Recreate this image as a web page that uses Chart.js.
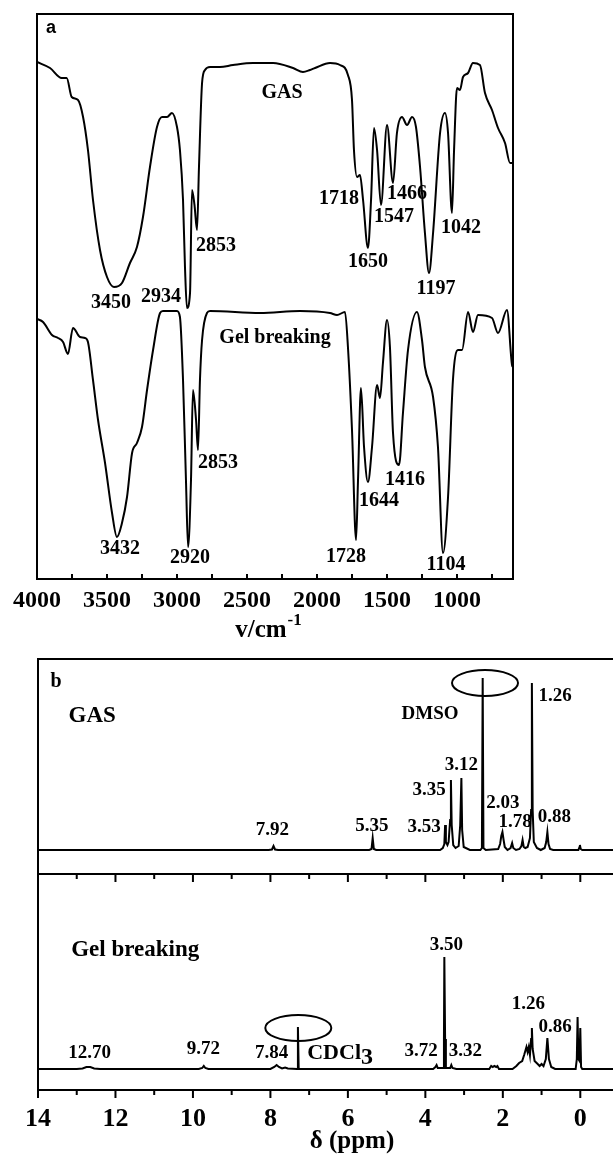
<!DOCTYPE html>
<html>
<head>
<meta charset="utf-8">
<script src="https://cdn.jsdelivr.net/npm/chart.js@4.4.1/dist/chart.umd.min.js"></script>
<style>
    body { margin: 0; background: #fff; width: 613px; height: 1157px; overflow: hidden; position: relative; }
    #wrapA { position: absolute; left: 0; top: 0; width: 613px; height: 645px; }
    #wrapB { position: absolute; left: 0; top: 645px; width: 613px; height: 512px; overflow: hidden; }
</style>
</head>
<body>
<div id="wrapA"><canvas id="irChart" width="613" height="645"></canvas></div>
<div id="wrapB"><canvas id="nmrChart" width="620" height="512"></canvas></div>
<script>
const FONT = "'Liberation Serif', 'Times New Roman', serif";

// (a) FT-IR, wavenumber in cm-1, transmittance in a.u. (curves stacked)
const irGasWn = [4000, 3907, 3824, 3788, 3752, 3707, 3671, 3636, 3600, 3550, 3500, 3450, 3393, 3336, 3286, 3243, 3193, 3143, 3107, 3071, 3036, 3000, 2979, 2957, 2943, 2929, 2907, 2893, 2875, 2857, 2843, 2821, 2800, 2764, 2693, 2600, 2457, 2314, 2171, 2100, 2050, 2014, 1907, 1836, 1779, 1750, 1736, 1714, 1693, 1671, 1636, 1614, 1593, 1571, 1543, 1500, 1457, 1429, 1393, 1357, 1321, 1293, 1264, 1229, 1200, 1171, 1121, 1086, 1064, 1036, 1021, 1000, 979, 957, 921, 886, 836, 800, 750, 707, 657, 621, 600];
const irGasT = [517, 511, 501, 501, 482, 479, 462, 429, 379, 329, 302, 292, 296, 316, 332, 362, 412, 452, 462, 462, 466, 452, 429, 379, 312, 271, 286, 389, 374, 349, 412, 496, 509, 512, 512, 514, 516, 516, 511, 507, 509, 511, 516, 514, 504, 479, 429, 402, 404, 379, 331, 379, 451, 429, 374, 454, 396, 446, 462, 454, 462, 452, 412, 346, 306, 346, 446, 466, 446, 366, 429, 491, 489, 502, 506, 516, 514, 486, 469, 451, 436, 416, 416];
const irGelWn = [4000, 3957, 3893, 3850, 3814, 3779, 3743, 3693, 3657, 3636, 3600, 3564, 3514, 3464, 3429, 3393, 3357, 3321, 3286, 3250, 3214, 3171, 3121, 3100, 3000, 2979, 2957, 2936, 2921, 2900, 2886, 2864, 2850, 2836, 2821, 2786, 2764, 2407, 2121, 1907, 1857, 1800, 1779, 1750, 1721, 1707, 1686, 1664, 1636, 1607, 1571, 1550, 1529, 1500, 1479, 1457, 1414, 1386, 1350, 1286, 1250, 1229, 1171, 1136, 1100, 1064, 1029, 993, 964, 921, 886, 850, 750, 707, 643, 607, 600];
const irGelT = [260, 257, 244, 241, 237, 225, 251, 242, 241, 237, 199, 159, 116, 66, 42, 56, 82, 126, 136, 152, 189, 229, 266, 268, 268, 262, 199, 99, 32, 99, 189, 159, 129, 199, 239, 266, 268, 266, 268, 266, 264, 267, 232, 149, 39, 99, 191, 132, 97, 132, 194, 181, 216, 259, 232, 146, 114, 166, 229, 267, 239, 212, 182, 132, 26, 82, 199, 229, 229, 267, 247, 264, 261, 246, 269, 214, 212];
const irTicks = [4000, 3750, 3500, 3250, 3000, 2750, 2500, 2250, 2000, 1750, 1500, 1250, 1000, 750];
const irLabels = [
    ['GAS', 2250, 486], ['2853', 2721, 333], ['3450', 3471, 276], ['2934', 3114, 282],
    ['1718', 1843, 380], ['1650', 1636, 317], ['1547', 1450, 362], ['1466', 1357, 385],
    ['1042', 971, 351], ['1197', 1150, 290],
    ['Gel breaking', 2300, 241], ['2853', 2707, 116], ['3432', 3407, 30], ['2920', 2907, 21],
    ['1728', 1793, 22], ['1644', 1557, 78], ['1416', 1371, 99], ['1104', 1079, 14]
];

// (b) 1H NMR, chemical shift in ppm, intensity in a.u. above each baseline
const nmrGasPpm = [14, 8.05, 7.96, 7.92, 7.88, 7.8, 5.45, 5.39, 5.36, 5.33, 5.27, 3.62, 3.55, 3.51, 3.49, 3.47, 3.43, 3.4, 3.36, 3.34, 3.32, 3.28, 3.22, 3.14, 3.1, 3.07, 3.05, 3.01, 2.85, 2.58, 2.54, 2.52, 2.5, 2.44, 2.12, 2.07, 2.04, 2.01, 1.98, 1.95, 1.88, 1.8, 1.76, 1.73, 1.66, 1.57, 1.52, 1.49, 1.46, 1.42, 1.36, 1.3, 1.27, 1.25, 1.23, 1.2, 1.12, 1.02, 0.92, 0.88, 0.85, 0.82, 0.78, 0.7, 0.05, 0.02, 0.01, -0.01, -0.05, -0.87];
const nmrGasInt = [0, 0, 0.5, 4, 0.5, 0, 0, 1, 12, 1, 0, 0, 2, 6, 25, 8, 5, 8, 30, 70, 25, 5, 2, 4, 25, 72, 20, 3, 0, 0, 2, 172, 2, 0, 1, 6, 14, 18, 10, 3, 0, 2, 7, 2, 0, 1, 4, 10, 3, 2, 3, 12, 40, 167, 40, 8, 2, 0, 2, 8, 18, 6, 1, 0, 0, 3, 5, 1, 0, 0];
const nmrGelPpm = [14, 13, 12.85, 12.75, 12.65, 12.55, 12.4, 9.85, 9.76, 9.72, 9.68, 9.6, 8, 7.9, 7.84, 7.78, 7.7, 7.62, 7.55, 7.31, 7.29, 7.27, 3.8, 3.74, 3.71, 3.68, 3.54, 3.52, 3.51, 3.49, 3.47, 3.36, 3.33, 3.3, 3.2, 2.35, 2.3, 2.26, 2.22, 2.17, 2.14, 2.1, 1.75, 1.65, 1.58, 1.5, 1.45, 1.42, 1.39, 1.36, 1.33, 1.3, 1.27, 1.25, 1.23, 1.18, 1.1, 1.05, 1, 0.95, 0.89, 0.85, 0.81, 0.75, 0.65, 0.12, 0.09, 0.07, 0.05, 0.02, 0, -0.02, -0.05, -0.87];
const nmrGelInt = [0, 0, 0.5, 2, 2, 0.5, 0, 0, 1, 3, 1, 0, 0, 2, 4, 2, 0.5, 1.5, 0.5, 0, 42, 0, 0, 2, 4, 1, 1, 30, 112, 30, 1, 1, 4, 1, 0, 0, 3, 2, 3, 2, 3, 0, 0, 3, 6, 8, 14, 18, 22, 17, 22, 14, 30, 41, 20, 8, 5, 3, 5, 3, 10, 31, 10, 2, 0, 0, 10, 52, 10, 8, 41, 2, 0, 0];
const nmrTicks = [14, 13, 12, 11, 10, 9, 8, 7, 6, 5, 4, 3, 2, 1, 0];
const GAS_BASE = 240;
const GEL_BASE = 21;
const SPLIT = 216;
const nmrLabels = [
    ['GAS', 12.6, 374, 23], ['DMSO', 3.88, 376, 19], ['1.26', 0.65, 394, 19], ['3.12', 3.07, 325, 19],
    ['3.35', 3.9, 300, 19], ['2.03', 2.0, 287, 19], ['1.78', 1.68, 268, 19], ['0.88', 0.67, 273, 19],
    ['3.53', 4.03, 263, 19], ['5.35', 5.38, 264, 19], ['7.92', 7.95, 260, 19],
    ['Gel breaking', 11.49, 140, 23], ['12.70', 12.67, 37, 19], ['9.72', 9.73, 41, 19], ['7.84', 7.97, 37, 19],
    ['3.72', 4.11, 39, 19], ['3.32', 2.97, 39, 19], ['3.50', 3.46, 145, 19], ['1.26', 1.34, 86, 19], ['0.86', 0.65, 63, 19]
];
const nmrCircles = [[2.46, 407], [7.28, 62]];

function points(xs, ys, base) {
    return xs.map((v, i) => ({ x: v, y: ys[i] + base }));
}

function lineSet(data, smooth) {
    return {
        data: data,
        borderColor: '#000',
        borderWidth: 2,
        pointRadius: 0,
        cubicInterpolationMode: smooth ? 'monotone' : 'default',
        tension: smooth ? 0.4 : 0,
        fill: false
    };
}

const irDecor = {
    id: 'irDecor',
    afterDraw(chart) {
        const { ctx, chartArea: a, scales: { x, y } } = chart;
        ctx.save();
        ctx.strokeStyle = '#000';
        ctx.fillStyle = '#000';
        ctx.lineWidth = 2;
        ctx.strokeRect(a.left, a.top, a.right - a.left, a.bottom - a.top);
        ctx.beginPath();
        irTicks.forEach(v => {
            const px = x.getPixelForValue(v);
            ctx.moveTo(px, a.bottom);
            ctx.lineTo(px, a.bottom - 5);
        });
        ctx.stroke();

        ctx.textAlign = 'center';
        ctx.textBaseline = 'middle';
        ctx.font = 'bold 20px ' + FONT;
        irLabels.forEach(([t, wn, v]) => ctx.fillText(t, x.getPixelForValue(wn), y.getPixelForValue(v)));
        ctx.font = "bold 18px 'Liberation Sans', Arial, sans-serif";
        ctx.fillText('a', a.left + 14, a.top + 14);

        // axis title v/cm^-1
        ctx.textAlign = 'left';
        ctx.textBaseline = 'alphabetic';
        ctx.font = 'bold 25px ' + FONT;
        const w1 = ctx.measureText('v/cm').width;
        ctx.font = 'bold 17px ' + FONT;
        const w2 = ctx.measureText('-1').width;
        const x0 = 268 - (w1 + w2) / 2;
        ctx.font = 'bold 25px ' + FONT;
        ctx.fillText('v/cm', x0, a.bottom + 58);
        ctx.font = 'bold 17px ' + FONT;
        ctx.fillText('-1', x0 + w1 + 1, a.bottom + 46);
        ctx.restore();
    }
};

const nmrDecor = {
    id: 'nmrDecor',
    afterDraw(chart) {
        const { ctx, chartArea: a, scales: { x, y } } = chart;
        const ys = y.getPixelForValue(SPLIT);
        ctx.save();
        ctx.strokeStyle = '#000';
        ctx.fillStyle = '#000';
        ctx.lineWidth = 2;
        ctx.beginPath();
        ctx.moveTo(a.right, a.top);
        ctx.lineTo(a.left, a.top);
        ctx.lineTo(a.left, a.bottom + 8);
        ctx.moveTo(a.left, a.bottom);
        ctx.lineTo(a.right, a.bottom);
        ctx.moveTo(a.left, ys);
        ctx.lineTo(a.right, ys);
        nmrTicks.forEach(v => {
            const px = x.getPixelForValue(v);
            const len = v % 2 === 0 ? 8 : 5;
            ctx.moveTo(px, ys);
            ctx.lineTo(px, ys + len);
            ctx.moveTo(px, a.bottom);
            ctx.lineTo(px, a.bottom + len);
        });
        ctx.stroke();

        nmrCircles.forEach(([p, v]) => {
            ctx.beginPath();
            ctx.ellipse(x.getPixelForValue(p), y.getPixelForValue(v), 33, 13, 0, 0, Math.PI * 2);
            ctx.stroke();
        });

        ctx.textAlign = 'center';
        ctx.textBaseline = 'middle';
        nmrLabels.forEach(([t, p, v, size]) => {
            ctx.font = 'bold ' + size + 'px ' + FONT;
            ctx.fillText(t, x.getPixelForValue(p), y.getPixelForValue(v));
        });
        ctx.font = 'bold 20px ' + FONT;
        ctx.fillText('b', a.left + 18, a.top + 23);

        // CDCl3 with subscript
        ctx.textAlign = 'left';
        const cx = x.getPixelForValue(7.05);
        const cy = y.getPixelForValue(37);
        ctx.font = 'bold 22px ' + FONT;
        ctx.fillText('CDCl', cx, cy);
        const wc = ctx.measureText('CDCl').width;
        ctx.font = 'bold 24px ' + FONT;
        ctx.fillText('3', cx + wc, cy + 5);

        // axis title
        ctx.textAlign = 'center';
        ctx.textBaseline = 'alphabetic';
        ctx.font = 'bold 25px ' + FONT;
        ctx.fillText('\u03b4 (ppm)', 352, a.bottom + 58);
        ctx.restore();
    }
};

const tickFont = size => ({ family: FONT, size: size, weight: 'bold' });

new Chart(document.getElementById('irChart'), {
    type: 'line',
    data: {
        datasets: [
            lineSet(points(irGasWn, irGasT, 0), true),
            lineSet(points(irGelWn, irGelT, 0), true)
        ]
    },
    options: {
        responsive: false,
        animation: false,
        layout: { padding: { left: 37, right: 100, top: 14, bottom: 0 } },
        plugins: { legend: { display: false }, tooltip: { enabled: false } },
        scales: {
            x: {
                type: 'linear',
                reverse: true,
                min: 600,
                max: 4000,
                afterBuildTicks: s => { s.ticks = irTicks.map(v => ({ value: v })); },
                afterFit: s => { s.height = 66; },
                grid: { display: false, drawTicks: false, tickLength: 0 },
                border: { display: false },
                ticks: {
                    autoSkip: false,
                    maxRotation: 0,
                    padding: 7,
                    color: '#000',
                    font: tickFont(24),
                    callback: v => (v % 500 === 0 ? String(v) : '')
                }
            },
            y: { display: false, min: 0, max: 565 }
        }
    },
    plugins: [irDecor]
});

new Chart(document.getElementById('nmrChart'), {
    type: 'line',
    data: {
        datasets: [
            lineSet(points(nmrGasPpm, nmrGasInt, GAS_BASE), false),
            lineSet(points(nmrGelPpm, nmrGelInt, GEL_BASE), false)
        ]
    },
    options: {
        responsive: false,
        animation: false,
        layout: { padding: { left: 38, right: 6, top: 14, bottom: 0 } },
        plugins: { legend: { display: false }, tooltip: { enabled: false } },
        scales: {
            x: {
                type: 'linear',
                reverse: true,
                min: -0.87,
                max: 14,
                afterBuildTicks: s => { s.ticks = nmrTicks.map(v => ({ value: v })); },
                afterFit: s => { s.height = 67; },
                grid: { display: false, drawTicks: false, tickLength: 0 },
                border: { display: false },
                ticks: {
                    autoSkip: false,
                    maxRotation: 0,
                    padding: 14,
                    color: '#000',
                    font: tickFont(26),
                    callback: v => (v % 2 === 0 ? String(v) : '')
                }
            },
            y: { display: false, min: 0, max: 431 }
        }
    },
    plugins: [nmrDecor]
});
</script>
</body>
</html>
